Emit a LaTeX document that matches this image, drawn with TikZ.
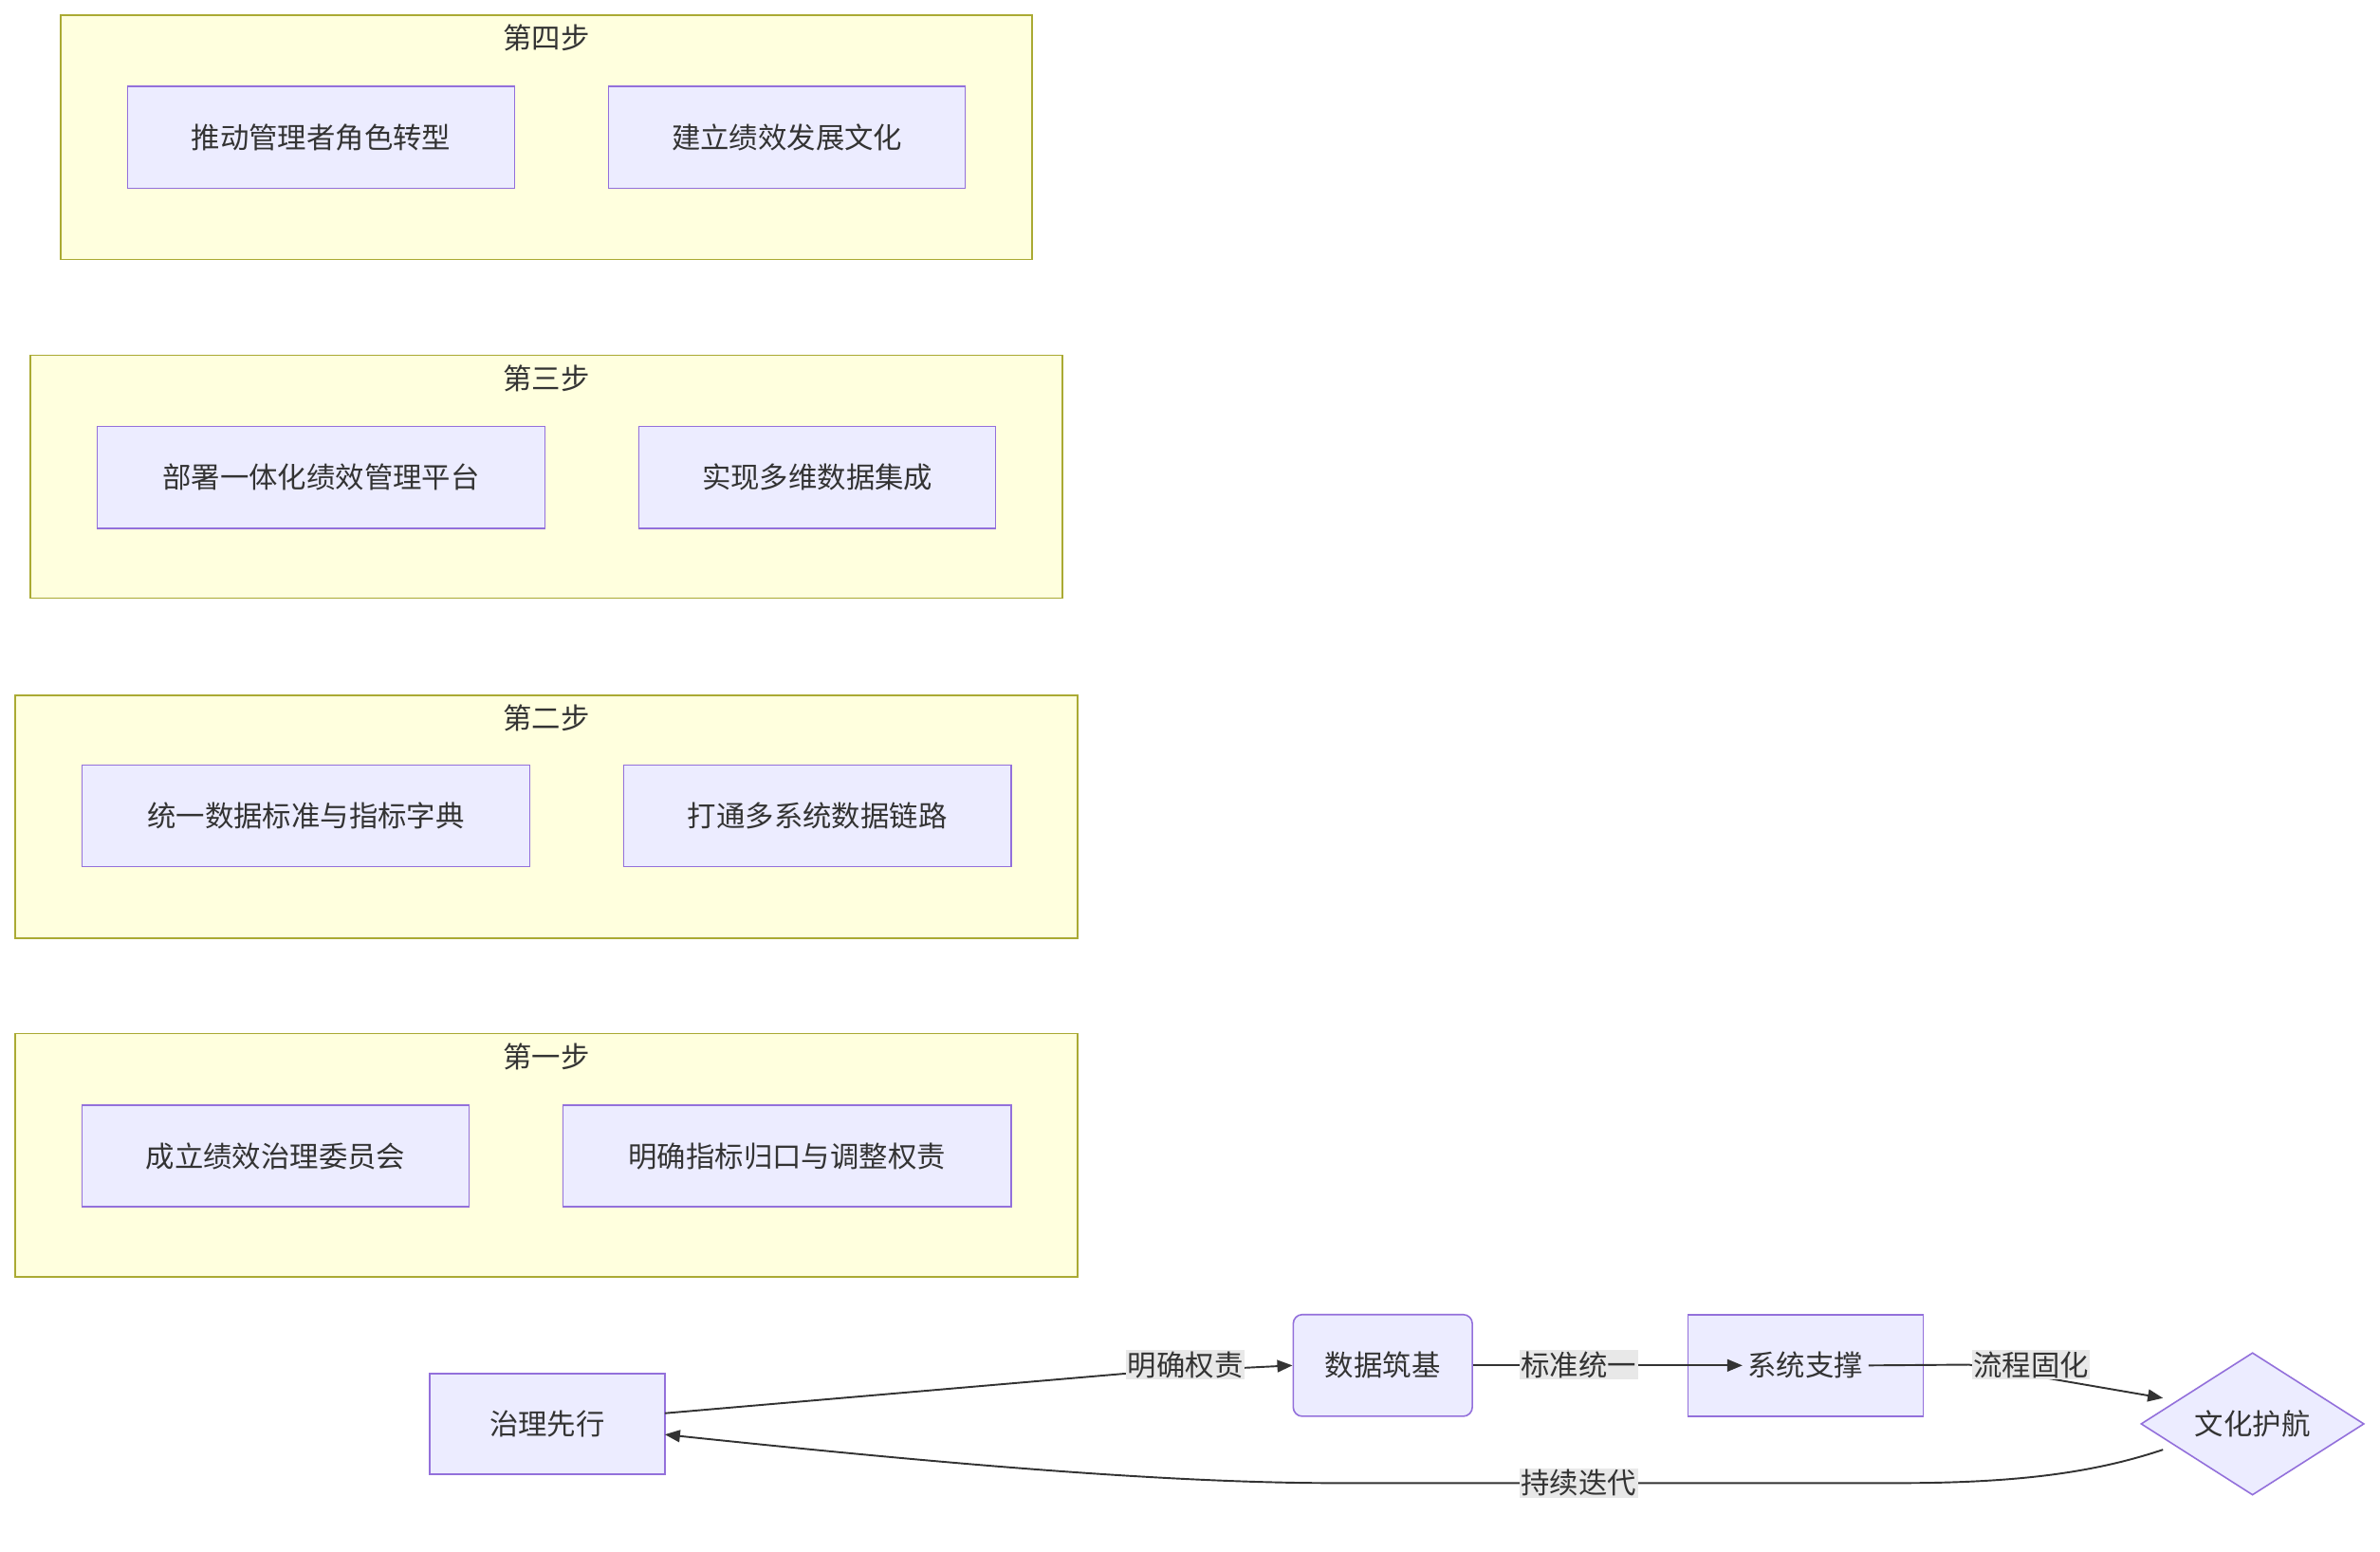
\documentclass[tikz,border=0pt]{standalone}
\usepackage{fontspec}
\setmainfont{Noto Sans CJK SC}
\usetikzlibrary{shapes.geometric,arrows.meta}
\definecolor{nf}{HTML}{ECECFF}\definecolor{nb}{HTML}{9370DB}
\definecolor{cf}{HTML}{FFFFDE}\definecolor{cb}{HTML}{AAAA33}
\definecolor{tx}{HTML}{333333}\definecolor{lb}{HTML}{E8E8E8}
\begin{document}
\begin{tikzpicture}[x=1pt,y=-1pt,font=\fontsize{19}{22}\selectfont,text=tx,
 clus/.style={draw=cb,fill=cf,line width=1pt},
 box/.style={draw=nb,fill=nf,line width=1pt},
 lab/.style={fill=lb,inner sep=1pt,text=tx},
 edge/.style={draw=tx,line width=1.2pt,-{Triangle[length=10pt,width=8pt]}}]
\useasboundingbox (0,0) rectangle (1568,1022);
\newcommand\clusterbox[4]{\draw[clus] (#1) rectangle (#2); \node at ($(#1)!0.5!(#2)$) {};}
\foreach \a/\b/\c/\d/\t/\n in {40/10/680/171/第四步/c4,20/234/700/394/第三步/c3,10/458/710/618/第二步/c2,10/681/710/841/第一步/c1}{
 \draw[clus] (\a,\b) rectangle (\c,\d);
 \node (\n) at ({(\a+\c)/2},\b+15) {\t};}
\foreach \a/\b/\c/\d/\t/\n in {84/57/339/124/推动管理者角色转型/a1,401/57/636/124/建立绩效发展文化/a2,
 64/281/359/348/部署一体化绩效管理平台/b1,421/281/656/348/实现多维数据集成/b2,
 54/504/349/571/统一数据标准与指标字典/d1,411/504/666/571/打通多系统数据链路/d2,
 54/728/309/795/成立绩效治理委员会/e1,371/728/666/795/明确指标归口与调整权责/e2,
 283/905/438/971/治理先行/g,1112/866/1267/933/系统支撑/s}{
 \draw[box] (\a,\b) rectangle (\c,\d);
 \node (\n) at ({(\a+\c)/2},{(\b+\d)/2}) {\t};}
\node[box,rounded corners=6pt,minimum width=118pt,minimum height=67pt] (dz) at (911,899.5) {数据筑基};
\node[box,diamond,aspect=1,minimum width=147pt,inner sep=0pt] (wh) at (1484,938) {文化护航};
\coordinate (p1) at (740,905);
\draw[edge] (438,931) -- (p1) -- (dz.west);
\node[lab] at (781,899) {明确权责};
\draw[edge] (dz.east) -- (s.west);
\node[lab] at (1040,899) {标准统一};
\draw[edge] (s.east) -- (1297,899) -- (1425,921);
\node[lab] at (1338,899) {流程固化};
\draw[edge] (1425,955) .. controls (1380,970) and (1330,977) .. (1250,977) -- (880,977) .. controls (760,977) and (600,962) .. (438,945);
\node[lab] at (1040,977) {持续迭代};
\end{tikzpicture}
\end{document}
